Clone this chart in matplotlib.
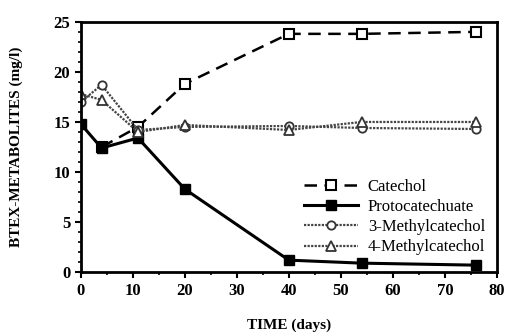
import matplotlib
matplotlib.use("Agg")
import matplotlib.pyplot as plt
from matplotlib.ticker import MultipleLocator

plt.rcParams['font.family'] = ['Liberation Serif', 'DejaVu Serif']

days_cat = [4, 11, 20, 40, 54, 76]
catechol = [12.5, 14.5, 18.8, 23.8, 23.8, 24.0]

days = [0, 4, 11, 20, 40, 54, 76]
protocatechuate = [14.8, 12.4, 13.4, 8.3, 1.2, 0.9, 0.7]
methyl3 = [17.0, 18.7, 14.2, 14.5, 14.6, 14.4, 14.3]
methyl4 = [17.8, 17.2, 14.0, 14.7, 14.2, 15.0, 15.0]

fig = plt.figure(figsize=(5.08, 3.36), dpi=100)
ax = fig.add_axes([0.159, 0.19, 0.819, 0.745])

ax.plot(days_cat, catechol, color='black', lw=1.8, ls=(0, (5, 3)),
        marker='s', ms=7, mfc='white', mec='black', mew=1.5, label='Catechol')
ax.plot(days, protocatechuate, color='black', lw=2.2, ls='-',
        marker='s', ms=7, mfc='black', mec='black', label='Protocatechuate')
ax.plot(days, methyl3, color='#444444', lw=1.6, ls=(0, (1, 0.6)),
        marker='o', ms=6, mfc='white', mec='#333333', mew=1.3, label='3-Methylcatechol')
ax.plot(days, methyl4, color='#444444', lw=1.6, ls=(0, (1, 0.6)),
        marker='^', ms=7, mfc='white', mec='#333333', mew=1.3, label='4-Methylcatechol')

ax.set_xlim(0, 80)
ax.set_ylim(0, 25)
ax.xaxis.set_major_locator(MultipleLocator(10))
ax.xaxis.set_minor_locator(MultipleLocator(5))
ax.yaxis.set_major_locator(MultipleLocator(5))
ax.yaxis.set_minor_locator(MultipleLocator(1))
ax.tick_params(axis='both', which='major', labelsize=12, length=4, width=1.5, direction='out')
ax.tick_params(axis='both', which='minor', length=2, width=1.2, direction='out')
for lbl in ax.get_xticklabels() + ax.get_yticklabels():
    lbl.set_fontweight('bold')
for s in ax.spines.values():
    s.set_linewidth(2)

ax.set_xlabel('TIME (days)', fontsize=11, fontweight='bold', labelpad=14)
ax.set_ylabel('BTEX-METABOLITES (mg/l)', fontsize=11, fontweight='bold', labelpad=22)

ax.legend(loc='lower right', bbox_to_anchor=(1.0, 0.02), frameon=False,
          fontsize=12, handlelength=3.2, labelspacing=0.25, borderpad=0.2,
          handletextpad=0.6)

fig.savefig('out.png', dpi=100)
